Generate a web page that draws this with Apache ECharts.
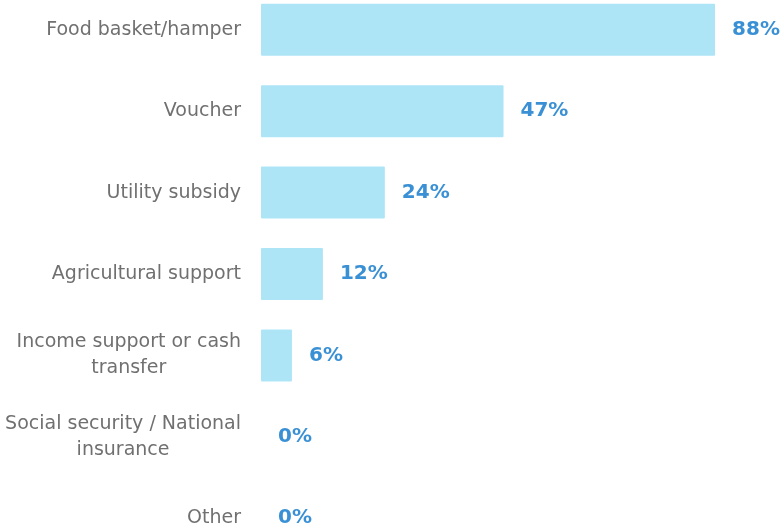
<!DOCTYPE html>
<html><head><meta charset="utf-8">
<script src="https://cdn.jsdelivr.net/npm/echarts@6/dist/echarts.min.js"></script>
<style>html,body{margin:0;padding:0;background:#fff;overflow:hidden}#c{position:absolute;left:0;top:-11px;width:783px;height:570px}</style>
</head><body><div id="c"></div>
<script>
var categories = ["Food basket/hamper","Voucher","Utility subsidy","Agricultural support","Income support or cash\ntransfer","Social security / National\ninsurance","Other"];
var values = [88,47,24,12,6,0,0];
var chart = echarts.init(document.getElementById('c'));
var catFont = {color:'#707070',fontSize:19,lineHeight:26,fontFamily:'"DejaVu Sans", sans-serif'};
chart.setOption({
  animation:false,
  grid:{left:261,right:6,top:0,bottom:0,containLabel:false},
  xAxis:{type:'value',min:0,max:100,show:false},
  yAxis:{type:'category',data:categories,inverse:true,
    axisLine:{show:false},axisTick:{show:false},
    axisLabel:Object.assign({margin:20,
      formatter:function(v){return v.split('\n').map(function(s){return '{c|'+s+'}';}).join('\n');},
      rich:{c:Object.assign({align:'center'},catFont)}},catFont)},
  series:[{type:'bar',data:values,barWidth:52,
    itemStyle:{color:'#ade5f6',borderRadius:1},
    label:{show:true,position:'right',distance:17,formatter:'{c}%',color:'#3a90d4',fontSize:20,fontWeight:'bold',fontFamily:'"DejaVu Sans", sans-serif'}}]
});
</script></body></html>
